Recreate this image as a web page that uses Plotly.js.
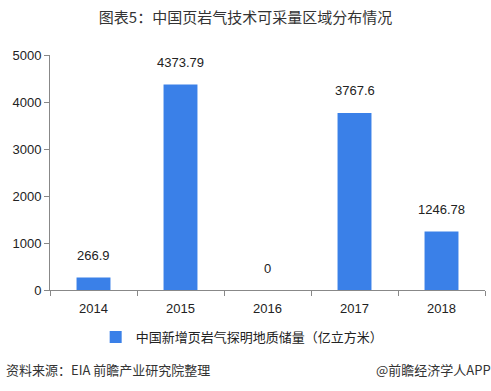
<!DOCTYPE html>
<html><head><meta charset="utf-8">
<script src="https://cdn.plot.ly/plotly-3.0.1.min.js"></script>
<style>html,body{margin:0;padding:0;background:#fff;}#chart{width:491px;height:391px;}</style>
</head><body><div id="chart"></div>
<script>
const years = ['2014','2015','2016','2017','2018'];
const reserves = [266.9, 4373.79, 0, 3767.6, 1246.78];
const valueLabels = ['266.9','4373.79','0','3767.6','1246.78'];
const seriesName = '中国新增页岩气探明地质储量（亿立方米）';
const titleText = '图表5：中国页岩气技术可采量区域分布情况';
const sourceText = '资料来源：EIA 前瞻产业研究院整理';
const brandText = '@前瞻经济学人APP';

const font = 'Liberation Sans, Arial, "Noto Sans CJK SC", sans-serif';
const cjk = '"Noto Sans CJK SC", "Liberation Sans", sans-serif';

const trace = {
  type: 'bar', x: years, y: reserves, name: seriesName,
  marker: {color: '#3a80e8'}, showlegend: true, hoverinfo: 'none'
};

const annotations = years.map((yr, i) => ({
  x: i, y: reserves[i], xref: 'x', yref: 'y', text: valueLabels[i],
  showarrow: false, yshift: 22, font: {family: font, size: 13, color: '#222'}
}));
annotations.push({xref:'paper', yref:'paper', x:-0.1, y:-0.34, xanchor:'left', yanchor:'middle',
  text: sourceText, showarrow:false, font:{family: cjk, size: 13, color:'#333'}, xshift: -3});
annotations.push({xref:'paper', yref:'paper', x:1.0, y:-0.34, xanchor:'right', yanchor:'middle',
  text: brandText, showarrow:false, font:{family: cjk, size: 13, color:'#333'}, xshift: 8});

const layout = {
  width: 491, height: 391,
  margin: {l: 50, r: 6, t: 55, b: 101},
  paper_bgcolor: '#fff', plot_bgcolor: '#fff',
  title: {text: titleText, x: 0.5, xanchor: 'center', y: 0.955, yanchor: 'middle',
    font: {family: cjk, size: 15, color: '#333'}},
  bargap: 0.61,
  xaxis: {type: 'category', range: [-0.5, 4.5], autorange: false, showline: true, linecolor: '#888', linewidth: 1,
    ticks: 'outside', tickson: 'boundaries', ticklen: 5, tickcolor: '#888', tickangle: 0,
    ticklabelstandoff: 6,
    tickfont: {family: font, size: 13, color: '#222'}, showgrid: false, fixedrange: true},
  yaxis: {range: [0, 5000], autorange: false, dtick: 1000, showline: true, linecolor: '#888', linewidth: 1,
    ticks: 'outside', ticklen: 5, tickcolor: '#888', showgrid: false, zeroline: false,
    tickfont: {family: font, size: 13, color: '#222'}, fixedrange: true},
  legend: {orientation: 'h', x: 0.105, xanchor: 'left', y: -0.2, yanchor: 'middle',
    font: {family: cjk, size: 13, color: '#222'}, itemwidth: 30},
  annotations: annotations
};
Plotly.newPlot('chart', [trace], layout, {staticPlot: true, displayModeBar: false});
</script></body></html>
